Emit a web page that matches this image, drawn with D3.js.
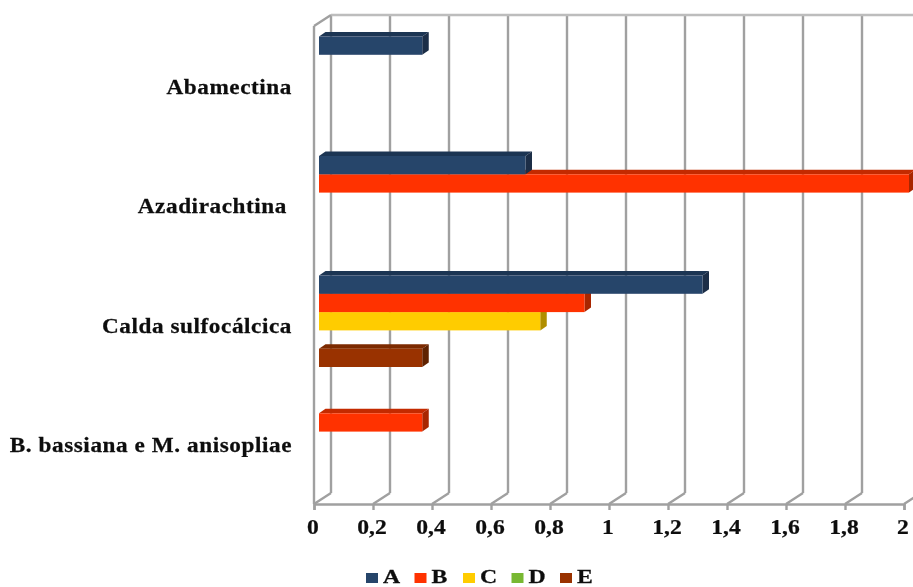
<!DOCTYPE html>
<html>
<head>
<meta charset="utf-8">
<script src="https://cdn.jsdelivr.net/npm/d3@7"></script>
<style>
  html, body { margin: 0; padding: 0; background: #fff; }
  svg { display: block; }
  text { font-family: "Liberation Serif", serif; font-weight: bold; fill: #111; stroke: #111; stroke-width: 0.25px; }
</style>
</head>
<body>
<div id="chart"></div>
<script>
// data
const categories = ["Abamectina", "Azadirachtina ", "Calda sulfocálcica", "B. bassiana e M. anisopliae"];
const seriesNames = ["A", "B", "C", "D", "E"];
const valuesA = [0.35, 0.7, 1.3, 0];
const valuesB = [0, 2, 0.9, 0.35];
const valuesC = [0, 0, 0.75, 0];
const valuesD = [0, 0, 0, 0];
const valuesE = [0, 0, 0.35, 0];
const tickValues = [0, 0.2, 0.4, 0.6, 0.8, 1, 1.2, 1.4, 1.6, 1.8, 2];

const seriesValues = [valuesA, valuesB, valuesC, valuesD, valuesE];

// front, top and side colour of each series
const colors = {
  A: ["#28456b", "#1f3552", "#1b2e47"],
  B: ["#ff3300", "#c42c00", "#a82500"],
  C: ["#ffcc00", "#d9ae00", "#b08e00"],
  D: ["#78b832", "#5f9127", "#4e7820"],
  E: ["#993300", "#7c2a00", "#5e2000"]
};

const width = 913, height = 587;
const top_ = 26, bottom = 504;     // front edge of the plot
const wallDx = 17, wallDy = -11;   // depth of the 3d box
const barDx = 6.5, barDy = -4.5;   // depth of the bars
const barInset = 5;
const gridColor = "#a0a0a0";
const textStretch = 1.16;          // the reference text is stretched sideways

const svg = d3.select("#chart")
  .append("svg")
  .attr("width", width)
  .attr("height", height);

// the reference is a slightly soft screenshot
svg.append("filter")
  .attr("id", "soft")
  .attr("x", 0).attr("y", 0).attr("width", 1).attr("height", 1)
  .attr("filterUnits", "objectBoundingBox")
  .append("feGaussianBlur")
  .attr("stdDeviation", 0.4);

const root = svg.append("g").attr("filter", "url(#soft)");

root.append("rect")
  .attr("width", width)
  .attr("height", height)
  .attr("fill", "#fff");

const x = d3.scaleLinear().domain([0, 2]).range([314, 904]);

const y0 = d3.scaleBand()
  .domain(categories)
  .range([top_, bottom]);

const y1 = d3.scaleBand()
  .domain(seriesNames)
  .range([10.5, 102]);

// walls and gridlines
const grid = root.append("g")
  .attr("fill", "none")
  .attr("stroke", gridColor)
  .attr("stroke-width", 2.4);

grid.selectAll("line.back")
  .data(tickValues)
  .join("line")
  .attr("class", "back")
  .attr("x1", d => x(d) + wallDx)
  .attr("x2", d => x(d) + wallDx)
  .attr("y1", top_ + wallDy)
  .attr("y2", bottom + wallDy);

grid.selectAll("line.floor")
  .data(tickValues)
  .join("line")
  .attr("class", "floor")
  .attr("x1", d => x(d))
  .attr("x2", d => x(d) + wallDx)
  .attr("y1", bottom)
  .attr("y2", bottom + wallDy);

grid.append("line")
  .attr("x1", x(0) + wallDx).attr("x2", width)
  .attr("y1", top_ + wallDy).attr("y2", top_ + wallDy)
  .attr("stroke", "#bdbdbd");

grid.append("line")
  .attr("x1", x(0)).attr("x2", x(0))
  .attr("y1", top_).attr("y2", bottom);

grid.append("line")
  .attr("x1", x(0)).attr("x2", x(0) + wallDx)
  .attr("y1", top_).attr("y2", top_ + wallDy);

// X axis
const xAxis = root.append("g")
  .attr("transform", `translate(0, ${bottom})`)
  .call(d3.axisBottom(x)
    .tickValues(tickValues)
    .tickSize(6)
    .tickPadding(10)
    .tickFormat(d => String(d).replace(".", ",")));

xAxis.select(".domain").attr("stroke", gridColor).attr("stroke-width", 2.4);
xAxis.selectAll(".tick line").attr("stroke", gridColor).attr("stroke-width", 2.4);
xAxis.selectAll("text")
  .attr("font-size", 20)
  .attr("font-family", null)
  .attr("transform", "translate(-1.5,0) scale(1.18,1)");

// category labels
root.selectAll("text.category")
  .data(categories)
  .join("text")
  .attr("class", "category")
  .attr("transform", (d, i) => `translate(${i === 1 ? 287 : 292}, ${y0(d) + y0.bandwidth() / 2 + 8}) scale(${textStretch}, 1)`)
  .attr("text-anchor", "end")
  .attr("font-size", 20)
  .style("letter-spacing", "0.5px")
  .text(d => d.trim());

// bars, lowest series first so the upper ones overlap their top faces
const bars = [];
seriesNames.forEach((name, s) => {
  categories.forEach((cat, c) => {
    if (seriesValues[s][c] > 0) bars.push({ name, cat, value: seriesValues[s][c] });
  });
});
bars.sort((a, b) => seriesNames.indexOf(b.name) - seriesNames.indexOf(a.name));

const barG = root.selectAll("g.bar")
  .data(bars)
  .join("g")
  .attr("class", "bar");

const left = () => x(0) + barInset;
const right = d => x(d.value) + barInset;
const barTop = d => y0(d.cat) + y1(d.name);
const barBottom = d => barTop(d) + y1.bandwidth();

barG.append("polygon")
  .attr("fill", d => colors[d.name][1])
  .attr("points", d => [
    [left(), barTop(d)],
    [left() + barDx, barTop(d) + barDy],
    [right(d) + barDx, barTop(d) + barDy],
    [right(d), barTop(d)]
  ].join(" "));

barG.append("polygon")
  .attr("fill", d => colors[d.name][2])
  .attr("points", d => [
    [right(d), barTop(d)],
    [right(d) + barDx, barTop(d) + barDy],
    [right(d) + barDx, barBottom(d) + barDy],
    [right(d), barBottom(d)]
  ].join(" "));

barG.append("rect")
  .attr("fill", d => colors[d.name][0])
  .attr("x", left)
  .attr("y", barTop)
  .attr("width", d => right(d) - left())
  .attr("height", y1.bandwidth());

// legend
const legendX = d3.scalePoint()
  .domain(seriesNames)
  .range([366, 560]);

const legend = root.selectAll("g.legend")
  .data(seriesNames)
  .join("g")
  .attr("class", "legend")
  .attr("transform", d => `translate(${legendX(d)}, 573)`);

legend.append("rect")
  .attr("width", 12)
  .attr("height", 10)
  .attr("fill", d => colors[d][0]);

legend.append("text")
  .attr("transform", `translate(17, 9.8) scale(1.25, 1)`)
  .attr("font-size", 19)
  .text(d => d);
</script>
</body>
</html>
